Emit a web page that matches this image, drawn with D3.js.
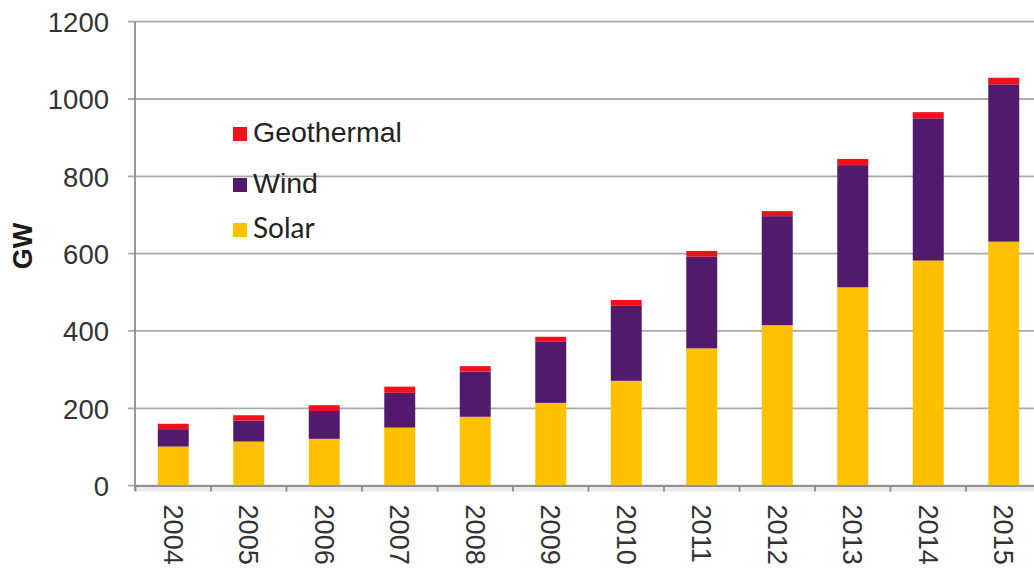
<!DOCTYPE html>
<html><head><meta charset="utf-8">
<script src="https://cdn.jsdelivr.net/npm/d3@7"></script>
<style>
html,body{margin:0;padding:0;background:#fff;overflow:hidden;}
svg{display:block;}
</style></head>
<body>
<svg id="chart" width="1034" height="570"></svg>
<script>
const years = ["2004","2005","2006","2007","2008","2009","2010","2011","2012","2013","2014","2015"];
const solar = [101,114,121,150,178,214,271,355,415,513,582,631];
const wind  = [45,54,72,90,117,158,194,237,282,316,368,407];
const geothermal = [14,14,15,16,14,13,15,15,13,16,16,17];
const yTicks = [0,200,400,600,800,1000,1200];
const seriesNames = ["Solar","Wind","Geothermal"];
const seriesColors = ["#FFC000","#521A6C","#F2101A"];

const svg = d3.select("#chart");
const x = d3.scaleBand().domain(years).range([135.5,1041.5]).paddingInner(0.59).paddingOuter(0.295);
const y = d3.scaleLinear().domain([0,1200]).range([485.6,21.7]);

const rows = years.map((yr,i)=>({year:yr, Solar:solar[i], Wind:wind[i], Geothermal:geothermal[i]}));
const stacked = d3.stack().keys(seriesNames)(rows);

// gridlines + y ticks
const yAxis = d3.axisLeft(y).tickValues(yTicks).tickSize(0).tickPadding(0).tickFormat(d3.format("d"));
const gy = svg.append("g").attr("transform","translate(135,0)");
gy.selectAll("line.grid").data(yTicks).join("line").attr("class","grid")
  .attr("x1",-7).attr("x2",1034-135).attr("y1",d=>y(d)).attr("y2",d=>y(d))
  .attr("stroke","#a9a9a9").attr("stroke-width",1.8);
gy.call(yAxis);
gy.select(".domain").remove();
gy.selectAll(".tick text").attr("x",-26).attr("dy","0.36em")
  .style("font-family","Liberation Sans, Arial, sans-serif").style("font-size","27.5px").attr("fill","#333");

// bars
svg.append("g").selectAll("g").data(stacked).join("g")
  .attr("fill",(d,i)=>seriesColors[i])
  .selectAll("rect").data(d=>d).join("rect")
  .attr("x",d=>x(d.data.year)).attr("width",x.bandwidth())
  .attr("y",d=>y(d[1])).attr("height",d=>y(d[0])-y(d[1]));

// y axis line
svg.append("line").attr("x1",135).attr("x2",135).attr("y1",y(1200)).attr("y2",y(0)+5)
  .attr("stroke","#8c8c8c").attr("stroke-width",1.8);

// x axis shadow
svg.append("rect").attr("x",135).attr("y",y(0)+1).attr("width",900).attr("height",5)
  .attr("fill","#e6e6e6").attr("opacity",0.8);
// x axis
const xAxis = d3.axisBottom(x).tickSize(0).tickPadding(0);
const gx = svg.append("g").attr("transform",`translate(0,${y(0)})`).call(xAxis);
gx.select(".domain").attr("stroke","#8c8c8c").attr("stroke-width",1.8);
gx.selectAll(".tick text")
  .attr("transform","rotate(90)").attr("x",19).attr("y",0).attr("dy","0.36em")
  .attr("text-anchor","start")
  .style("font-family","Liberation Sans, Arial, sans-serif").style("font-size","27px").attr("fill","#333");
// boundary tick marks
const bounds = years.map(yr=>x(yr)-x.step()*x.paddingInner()/2);
gx.selectAll("line.bt").data(bounds).join("line").attr("class","bt")
  .attr("x1",d=>d).attr("x2",d=>d).attr("y1",0).attr("y2",6)
  .attr("stroke","#8c8c8c").attr("stroke-width",1.8);

// y label
svg.append("text").attr("transform","translate(32,246) rotate(-90)")
  .attr("text-anchor","middle").style("font-family","Liberation Sans, Arial, sans-serif")
  .style("font-size","27px").style("font-weight","bold").attr("fill","#1a1a1a").text("GW");

// legend
const legendItems = [
  {name:"Geothermal", color:seriesColors[2], y:127, font:"Liberation Sans, Arial, sans-serif", size:"28.5px"},
  {name:"Wind", color:seriesColors[1], y:178, font:"Liberation Sans, Arial, sans-serif", size:"28.5px"},
  {name:"Solar", color:seriesColors[0], y:223, font:"Lato, sans-serif", size:"28px"}
];
const lg = svg.append("g");
lg.selectAll("rect").data(legendItems).join("rect")
  .attr("x",233).attr("y",d=>d.y).attr("width",14).attr("height",14).attr("fill",d=>d.color);
lg.selectAll("text").data(legendItems).join("text")
  .attr("x",253).attr("y",d=>d.y+15)
  .style("font-family",d=>d.font).style("font-size",d=>d.size).attr("fill","#222").text(d=>d.name);
</script>
</body></html>
